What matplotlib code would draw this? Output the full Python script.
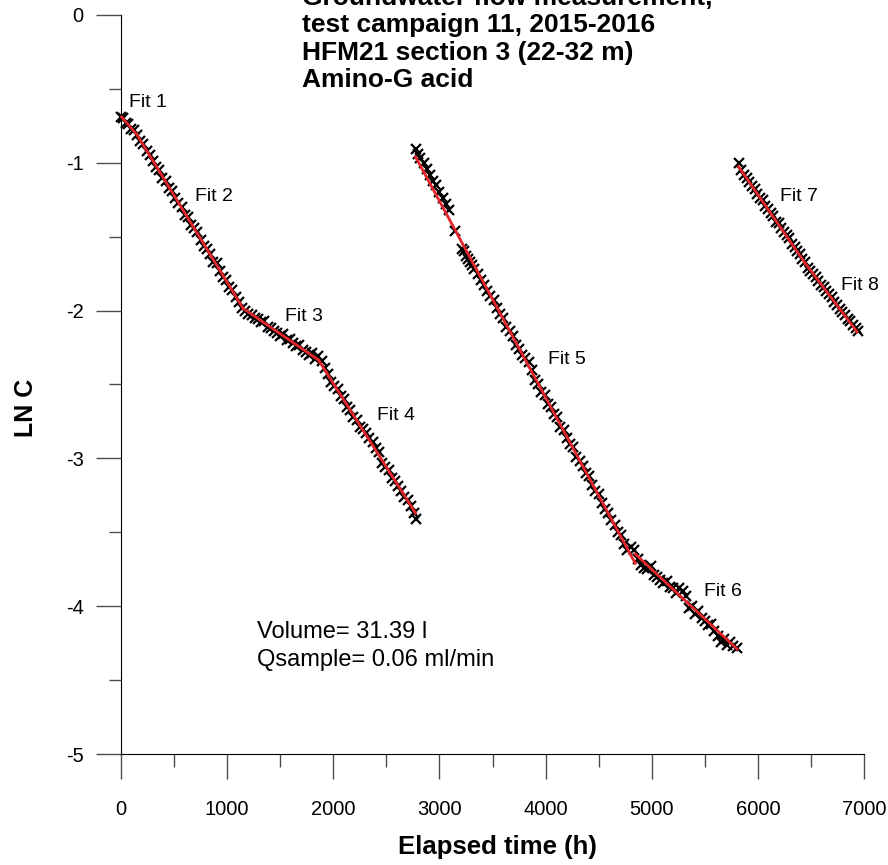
import numpy as np
import matplotlib
matplotlib.use("Agg")
import matplotlib.pyplot as plt
from matplotlib.ticker import MultipleLocator

plt.rcParams['font.family'] = ['Liberation Sans', 'DejaVu Sans']

# measured LN C, first injection (Fit 1 - Fit 4)
t1 = [0, 20, 45, 70, 95, 120, 150, 180, 210, 240, 270, 300, 330, 360, 390, 420, 450, 480,
      510, 540, 570, 600, 630, 660, 690, 720, 750, 780, 810, 840, 870, 900, 930, 960, 990,
      1020, 1050, 1080, 1110, 1140, 1170, 1200, 1230, 1260, 1290, 1320, 1350, 1380, 1410,
      1440, 1470, 1500, 1530, 1560, 1590, 1620, 1650, 1680, 1710, 1740, 1770, 1800, 1830,
      1860, 1890, 1920, 1950, 1980, 2010, 2040, 2070, 2100, 2130, 2160, 2190, 2220, 2250,
      2280, 2310, 2340, 2370, 2400, 2430, 2460, 2490, 2520, 2550, 2580, 2610, 2640, 2670,
      2700, 2730, 2760, 2780]
c1 = [-0.69, -0.70, -0.73, -0.74, -0.77, -0.78, -0.81, -0.85, -0.87, -0.92, -0.95, -0.99,
      -1.03, -1.05, -1.10, -1.12, -1.17, -1.19, -1.24, -1.27, -1.30, -1.35, -1.37, -1.42,
      -1.44, -1.47, -1.52, -1.56, -1.58, -1.62, -1.67, -1.68, -1.73, -1.77, -1.79, -1.84,
      -1.86, -1.91, -1.94, -1.98, -2.00, -2.02, -2.03, -2.05, -2.06, -2.08, -2.07, -2.11,
      -2.12, -2.14, -2.15, -2.17, -2.16, -2.20, -2.19, -2.22, -2.24, -2.23, -2.27, -2.28,
      -2.30, -2.29, -2.33, -2.31, -2.34, -2.39, -2.43, -2.48, -2.51, -2.53, -2.58, -2.60,
      -2.65, -2.67, -2.72, -2.74, -2.79, -2.80, -2.83, -2.86, -2.89, -2.93, -2.96, -3.03,
      -3.06, -3.08, -3.13, -3.15, -3.19, -3.22, -3.26, -3.28, -3.32, -3.37, -3.41]

# second injection (Fit 5 - Fit 6)
t2 = [2780, 2800, 2820, 2850, 2880, 2910, 2940, 2970, 3000, 3030, 3060, 3090, 3150, 3210,
      3230, 3250, 3270, 3290, 3310, 3330, 3360, 3390, 3420, 3450, 3480, 3510, 3540, 3570,
      3600, 3630, 3660, 3690, 3720, 3750, 3780, 3810, 3840, 3870, 3900, 3930, 3960, 3990,
      4020, 4050, 4080, 4110, 4140, 4170, 4200, 4230, 4260, 4290, 4320, 4350, 4380, 4410,
      4440, 4470, 4500, 4530, 4560, 4590, 4620, 4650, 4680, 4710, 4740, 4770, 4800, 4830,
      4870, 4900, 4930, 4960, 4990, 5020, 5050, 5080, 5110, 5140, 5170, 5200, 5230, 5260,
      5290, 5320, 5350, 5380, 5410, 5440, 5470, 5500, 5530, 5560, 5590, 5620, 5650, 5680,
      5710, 5740, 5770, 5800]
c2 = [-0.91, -0.94, -0.97, -1.00, -1.04, -1.08, -1.12, -1.15, -1.20, -1.24, -1.28, -1.32,
      -1.46, -1.58, -1.60, -1.63, -1.65, -1.67, -1.69, -1.72, -1.75, -1.79, -1.83, -1.87,
      -1.90, -1.93, -1.98, -2.02, -2.05, -2.11, -2.14, -2.17, -2.23, -2.26, -2.30, -2.32,
      -2.35, -2.40, -2.47, -2.50, -2.55, -2.57, -2.63, -2.65, -2.70, -2.72, -2.79, -2.81,
      -2.86, -2.90, -2.92, -2.99, -3.02, -3.05, -3.10, -3.12, -3.18, -3.22, -3.24, -3.30,
      -3.34, -3.37, -3.42, -3.45, -3.50, -3.52, -3.58, -3.62, -3.60, -3.62,
      -3.68, -3.72, -3.74, -3.75, -3.73, -3.79, -3.80, -3.82, -3.84, -3.83, -3.87, -3.88,
      -3.91, -3.88, -3.90, -3.93, -4.01, -4.00, -4.05, -4.03, -4.08, -4.10, -4.13, -4.12,
      -4.17, -4.20, -4.24, -4.22, -4.26, -4.24, -4.27, -4.28]

# third injection (Fit 7 - Fit 8)
t3 = [5820, 5845, 5870, 5895, 5920, 5945, 5970, 5995, 6020, 6045, 6070, 6095, 6120, 6145,
      6170, 6195, 6220, 6245, 6270, 6295, 6320, 6345, 6370, 6395, 6420, 6445, 6470, 6495,
      6520, 6545, 6570, 6595, 6620, 6645, 6670, 6695, 6720, 6745, 6770, 6795, 6820, 6845,
      6870, 6895, 6920, 6945]
c3 = [-1.00, -1.05, -1.08, -1.10, -1.13, -1.16, -1.18, -1.21, -1.24, -1.25, -1.29, -1.31,
      -1.34, -1.36, -1.40, -1.41, -1.44, -1.47, -1.49, -1.51, -1.55, -1.57, -1.60, -1.62,
      -1.65, -1.67, -1.71, -1.73, -1.75, -1.77, -1.80, -1.83, -1.84, -1.87, -1.89, -1.91,
      -1.94, -1.96, -1.99, -2.01, -2.03, -2.06, -2.07, -2.10, -2.12, -2.14]

# fitted straight lines (start/end points)
fit_t = [[5, 150], [150, 1150], [1150, 1860], [1860, 2775],
         [2775, 4845], [4845, 5805], [5818, 6446], [6446, 6934]]
fit_c = [[-0.69, -0.81], [-0.81, -1.985], [-1.985, -2.334], [-2.334, -3.37],
         [-0.96, -3.71], [-3.647, -4.29], [-1.026, -1.68], [-1.68, -2.143]]
fit_names = ['Fit 1', 'Fit 2', 'Fit 3', 'Fit 4', 'Fit 5', 'Fit 6', 'Fit 7', 'Fit 8']
label_t = [75, 697, 1545, 2412, 4023, 5493, 6209, 6783]
label_c = [-0.595, -1.225, -2.04, -2.71, -2.33, -3.90, -1.23, -1.83]

title_lines = ['Groundwater flow measurement,', 'test campaign 11, 2015-2016',
               'HFM21 section 3 (22-32 m)', 'Amino-G acid']

fig = plt.figure(figsize=(8.88, 8.65), dpi=100)
ax = fig.add_axes([0.1363, 0.1283, 0.8367, 0.8544])

for t, c in [(t1, c1), (t2, c2), (t3, c3)]:
    ax.plot(t, c, 'x', color='black', markersize=7.5, markeredgewidth=1.6, clip_on=False, zorder=3)

for ft, fc in zip(fit_t, fit_c):
    ax.plot(ft, fc, '-', color='#e3262b', linewidth=2, zorder=4, clip_on=False)

for name, lt, lc in zip(fit_names, label_t, label_c):
    ax.text(lt, lc, name, fontsize=14, ha='left', va='center')

ax.text(1281, -4.175, 'Volume= 31.39 l', fontsize=17, ha='left', va='center')
ax.text(1281, -4.365, 'Qsample= 0.06 ml/min', fontsize=17, ha='left', va='center')

ty = [0.115, -0.071, -0.257, -0.443]
for line, yy in zip(title_lines, ty):
    ax.text(1705, yy, line, fontsize=19, fontweight='bold', ha='left', va='center', clip_on=False)

ax.set_xlim(0, 7000)
ax.set_ylim(-5, 0)
ax.xaxis.set_major_locator(MultipleLocator(1000))
ax.xaxis.set_minor_locator(MultipleLocator(500))
ax.yaxis.set_major_locator(MultipleLocator(1))
ax.yaxis.set_minor_locator(MultipleLocator(0.5))

ax.spines['top'].set_visible(False)
ax.spines['right'].set_visible(False)
ax.tick_params(which='major', length=18, width=1, color='0.3', labelsize=14.5)
ax.tick_params(which='minor', length=9, width=1, color='0.3')
ax.tick_params(axis='x', which='major', pad=15)
ax.tick_params(axis='y', which='major', pad=9)
ax.set_yticks([0, -1, -2, -3, -4, -5])
ax.set_yticklabels(['0', '-1', '-2', '-3', '-4', '-5'])

ax.set_xlabel('Elapsed time (h)', fontsize=18.5, fontweight='bold')
ax.set_ylabel('LN C', fontsize=18, fontweight='bold')
ax.xaxis.set_label_coords(0.506, -0.110)
ax.yaxis.set_label_coords(-0.112, 0.468)

fig.savefig('out.png', dpi=100)
